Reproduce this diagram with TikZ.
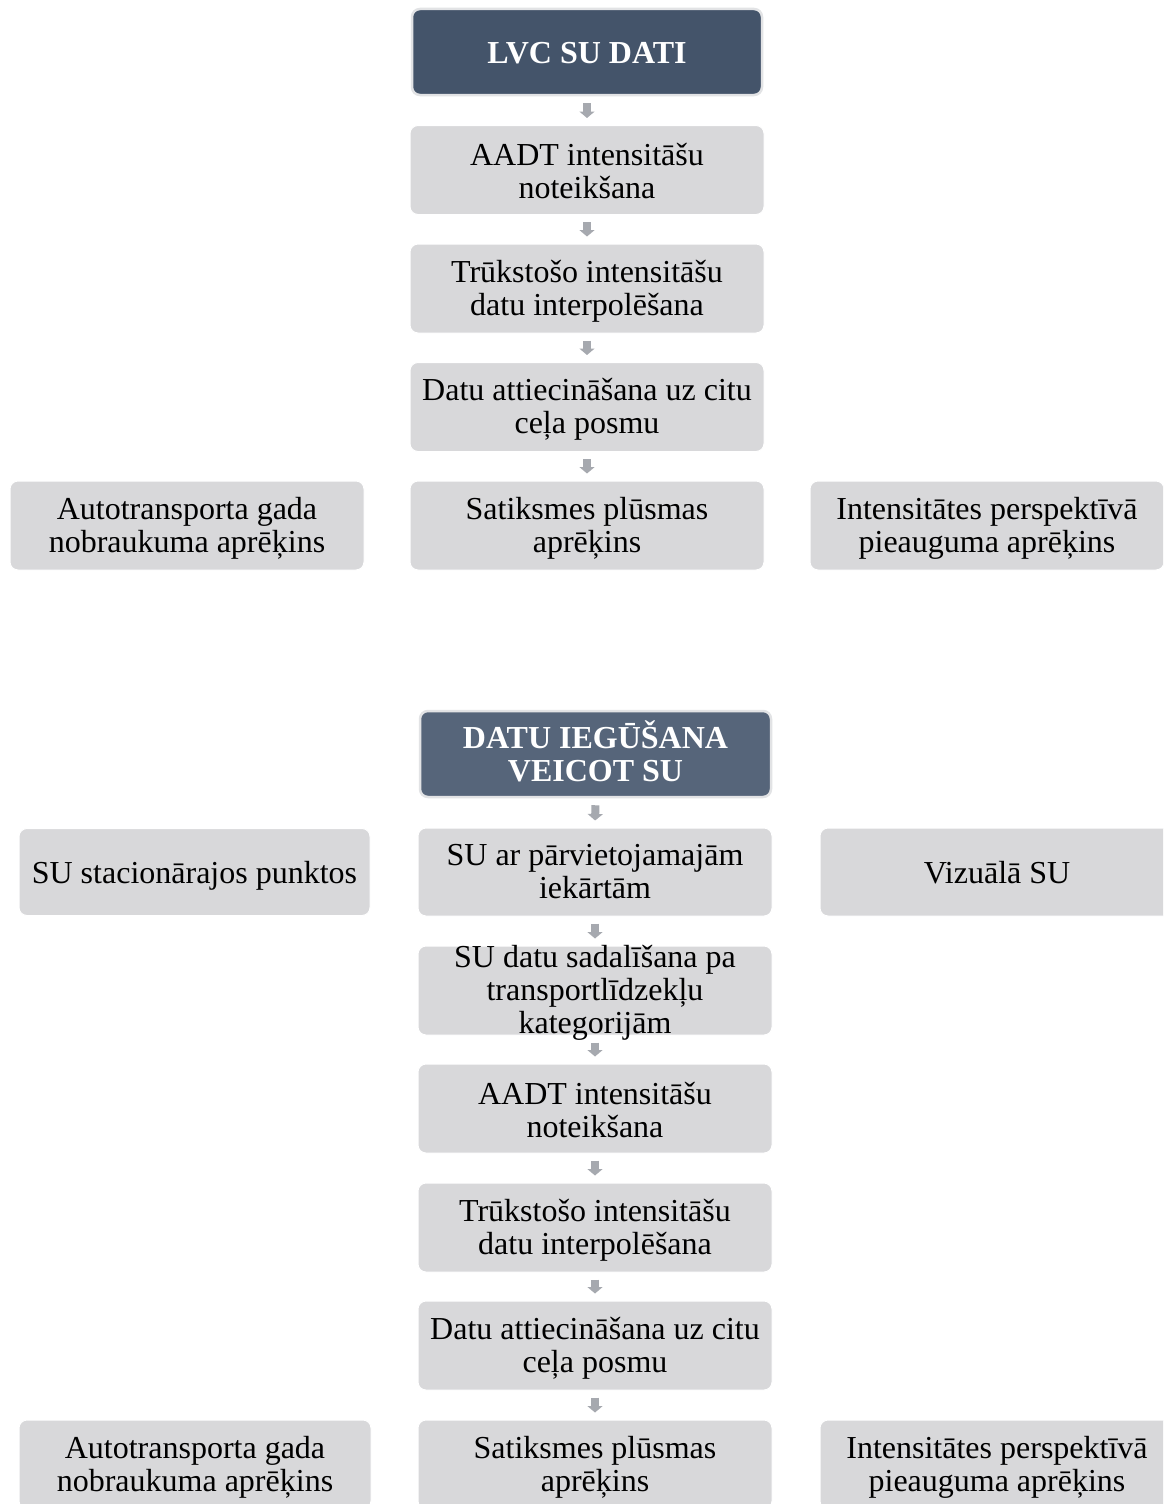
\documentclass[tikz,border=0pt]{standalone}
\usepackage{fontspec}
\setmainfont{Liberation Serif}
\usetikzlibrary{arrows.meta}
\definecolor{boxfill}{HTML}{D8D8DA}
\definecolor{headA}{HTML}{44546A}
\definecolor{headB}{HTML}{56657A}
\definecolor{arrowgray}{HTML}{A6A9AF}
\definecolor{headborder}{HTML}{E2E3E5}
\tikzset{
  lbox/.style={rectangle, rounded corners=8pt, fill=boxfill, draw=white, line width=1pt,
    minimum width=354pt, minimum height=89pt, inner sep=0pt},
  hbox/.style={rectangle, rounded corners=8pt, draw=headborder, line width=2.5pt,
    minimum width=350pt, minimum height=86pt, inner sep=0pt},
  txt/.style={align=center, inner sep=0pt, yshift=-2.5pt, font=\fontsize{32}{33}\selectfont, text=black},
  htxt/.style={align=center, inner sep=0pt, font=\bfseries\fontsize{32}{33}\selectfont, text=white},
  flow/.style={draw=arrowgray, line width=8pt, -{Triangle[width=15pt,length=6.5pt]},
    shorten <=7pt, shorten >=7pt}
}
\begin{document}
\begin{tikzpicture}[x=1pt,y=-1pt]
\clip (0,0) rectangle (1163,1504);
\fill[white] (0,0) rectangle (1163,1504);

% ---------- upper chart ----------
\node[hbox, fill=headA, label={[htxt, yshift=-1.5pt]center:LVC SU DATI}] (h1) at (587,52) {};
\node[lbox, label={[txt, yshift=1pt]center:AADT intensitāšu\\noteikšana}] (a1) at (587,170) {};
\node[lbox, label={[txt]center:Trūkstošo intensitāšu\\datu interpolēšana}] (t1) at (587,288.5) {};
\node[lbox, label={[txt]center:Datu attiecināšana uz citu\\ceļa posmu}] (d1) at (587,407) {};
\node[lbox, label={[txt]center:Autotransporta gada\\nobraukuma aprēķins}] (l1) at (187,525.5) {};
\node[lbox, label={[txt]center:Satiksmes plūsmas\\aprēķins}] (c1) at (587,525.5) {};
\node[lbox, label={[txt]center:Intensitātes perspektīvā\\pieauguma aprēķins}] (r1) at (987,525.5) {};

\draw[flow] (h1.south) -- (a1.north);
\draw[flow] (a1.south) -- (t1.north);
\draw[flow] (t1.south) -- (d1.north);
\draw[flow] (d1.south) -- (c1.north);

% ---------- lower chart ----------
\node[hbox, fill=headB, minimum width=351pt, label={[htxt, yshift=2.5pt]center:DATU IEGŪŠANA\\VEICOT SU}] (h2) at (595.5,754) {};
\node[lbox, minimum width=351pt, minimum height=87pt, label={[txt, yshift=-1.5pt]center:SU stacionārajos punktos}] (l2) at (194.5,872) {};
\node[lbox, minimum height=88pt, label={[txt, yshift=3pt]center:SU ar pārvietojamajām\\iekārtām}] (m2) at (595,872) {};
\node[lbox, minimum height=88pt, label={[txt, yshift=1.5pt]center:Vizuālā SU}] (r2) at (997,872) {};
\node[lbox, label={[txt]center:SU datu sadalīšana pa\\transportlīdzekļu\\kategorijām}] (s2) at (595,990.5) {};
\node[lbox, label={[txt, yshift=1pt]center:AADT intensitāšu\\noteikšana}] (a2) at (595,1108.5) {};
\node[lbox, label={[txt]center:Trūkstošo intensitāšu\\datu interpolēšana}] (t2) at (595,1227.5) {};
\node[lbox, label={[txt]center:Datu attiecināšana uz citu\\ceļa posmu}] (d2) at (595,1345.5) {};
\node[lbox, minimum width=352pt, label={[txt]center:Autotransporta gada\\nobraukuma aprēķins}] (l3) at (195,1464.5) {};
\node[lbox, label={[txt]center:Satiksmes plūsmas\\aprēķins}] (c3) at (595,1464.5) {};
\node[lbox, label={[txt]center:Intensitātes perspektīvā\\pieauguma aprēķins}] (r3) at (997,1464.5) {};

\draw[flow] (h2.south) -- (m2.north);
\draw[flow] (m2.south) -- (s2.north);
\draw[flow] (s2.south) -- (a2.north);
\draw[flow] (a2.south) -- (t2.north);
\draw[flow] (t2.south) -- (d2.north);
\draw[flow] (d2.south) -- (c3.north);
\end{tikzpicture}
\end{document}
